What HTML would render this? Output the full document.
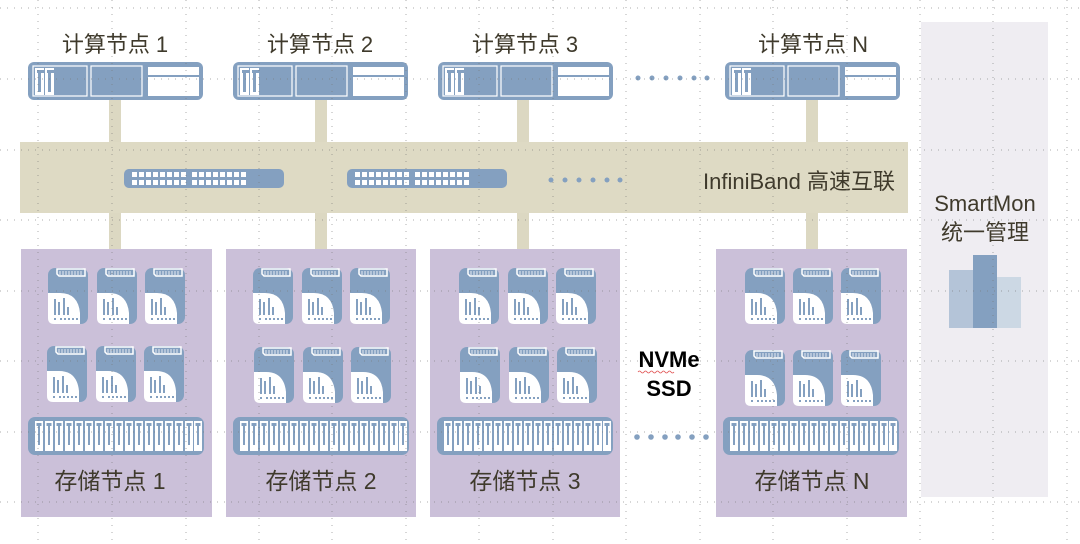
<!DOCTYPE html>
<html><head><meta charset="utf-8"><style>
html,body{margin:0;padding:0;background:#fff;}
svg{display:block}
text{font-family:"Liberation Sans","Noto Sans CJK SC",sans-serif;}
</style></head><body>
<svg width="1080" height="544" viewBox="0 0 1080 544" xmlns="http://www.w3.org/2000/svg">
<defs>
<g id="ssd">
 <rect x="0" y="0" width="40" height="56" rx="7" fill="#84a0c0"/>
 <path d="M9 1 H37 V8 H11 L9 6 Z" fill="none" stroke="#fff" stroke-width="1.5"/>
 <path d="M12 3 V7 M15 3 V7 M18 3 V7 M21 3 V7 M24 3 V7 M27 3 V7 M30 3 V7 M33 3 V7" stroke="#fff" stroke-width="0.8"/>
 <path d="M0 25 H12 Q30 25 32 45 V56 H6 Q0 56 0 50 Z" fill="#fff"/>
 <rect x="6" y="31" width="2" height="16" fill="#84a0c0"/>
 <rect x="10" y="34" width="2" height="13" fill="#84a0c0"/>
 <rect x="15" y="30" width="2" height="17" fill="#84a0c0"/>
 <rect x="19" y="39" width="2" height="8" fill="#84a0c0"/>
 <path d="M6 51 H8 M12 51 H14 M16 51 H18 M20 51 H22 M24 51 H26 M28 51 H30" stroke="#84a0c0" stroke-width="2"/>
</g>
<g id="node">
 <rect x="0" y="0" width="175" height="38" rx="6" fill="#84a0c0"/>
 <rect x="5" y="4" width="54" height="30" fill="none" stroke="#fff" stroke-width="1.2"/>
 <rect x="7" y="6" width="9" height="27" fill="#fff"/>
 <rect x="17" y="6" width="9" height="27" fill="#fff"/>
 <rect x="10" y="10" width="3" height="20" fill="#84a0c0"/>
 <rect x="20" y="10" width="3" height="20" fill="#84a0c0"/>
 <rect x="9" y="8" width="7" height="3" fill="#84a0c0"/>
 <rect x="19" y="8" width="7" height="3" fill="#84a0c0"/>
 <rect x="63" y="4" width="51" height="30" fill="none" stroke="#fff" stroke-width="1.2"/>
 <rect x="120" y="5" width="51" height="8" fill="#fff"/>
 <rect x="120" y="15" width="51" height="19" fill="#fff"/>
</g>
<g id="sw">
 <rect x="0" y="0" width="160" height="19" rx="5" fill="#84a0c0"/>
 <g fill="#fff">
 <rect x="8" y="3" width="5" height="5"/><rect x="15" y="3" width="5" height="5"/><rect x="22" y="3" width="5" height="5"/><rect x="29" y="3" width="5" height="5"/><rect x="36" y="3" width="5" height="5"/><rect x="43" y="3" width="5" height="5"/><rect x="50" y="3" width="5" height="5"/><rect x="57" y="3" width="5" height="5"/>
 <rect x="68" y="3" width="5" height="5"/><rect x="75" y="3" width="5" height="5"/><rect x="82" y="3" width="5" height="5"/><rect x="89" y="3" width="5" height="5"/><rect x="96" y="3" width="5" height="5"/><rect x="103" y="3" width="5" height="5"/><rect x="110" y="3" width="5" height="5"/><rect x="117" y="3" width="5" height="5"/>
 <rect x="8" y="11" width="5" height="5"/><rect x="15" y="11" width="5" height="5"/><rect x="22" y="11" width="5" height="5"/><rect x="29" y="11" width="5" height="5"/><rect x="36" y="11" width="5" height="5"/><rect x="43" y="11" width="5" height="5"/><rect x="50" y="11" width="5" height="5"/><rect x="57" y="11" width="5" height="5"/>
 <rect x="68" y="11" width="5" height="5"/><rect x="75" y="11" width="5" height="5"/><rect x="82" y="11" width="5" height="5"/><rect x="89" y="11" width="5" height="5"/><rect x="96" y="11" width="5" height="5"/><rect x="103" y="11" width="5" height="5"/><rect x="110" y="11" width="5" height="5"/><rect x="117" y="11" width="5" height="5"/>
 </g>
</g>
<g id="slot">
 <rect x="0" y="0" width="8" height="30" fill="#fff"/>
 <rect x="1.5" y="2" width="5" height="3" fill="#84a0c0"/>
 <rect x="3" y="4" width="2" height="20" fill="#84a0c0"/>
</g>
<g id="arr">
 <rect x="0" y="0" width="176" height="38" rx="7" fill="#84a0c0"/>
 <use href="#slot" x="7" y="4"/><use href="#slot" x="17" y="4"/><use href="#slot" x="27" y="4"/><use href="#slot" x="37" y="4"/><use href="#slot" x="47" y="4"/><use href="#slot" x="57" y="4"/><use href="#slot" x="67" y="4"/><use href="#slot" x="77" y="4"/><use href="#slot" x="87" y="4"/><use href="#slot" x="97" y="4"/><use href="#slot" x="107" y="4"/><use href="#slot" x="117" y="4"/><use href="#slot" x="127" y="4"/><use href="#slot" x="137" y="4"/><use href="#slot" x="147" y="4"/><use href="#slot" x="157" y="4"/><use href="#slot" x="166" y="4"/>
</g>
</defs>

<rect x="921" y="22" width="127" height="475" fill="#efedf2"/>
<text x="985" y="211" font-size="22" fill="#3f3a2c" text-anchor="middle">SmartMon</text>
<text x="985" y="240" font-size="22" fill="#3f3a2c" text-anchor="middle">统一管理</text>
<rect x="949" y="270" width="24" height="58" fill="#b4c4d8"/>
<rect x="973" y="255" width="24" height="73" fill="#84a0c0"/>
<rect x="997" y="277" width="24" height="51" fill="#ccd8e4"/>

<g fill="#dcd8c2">
<rect x="109" y="99" width="12" height="150"/>
<rect x="315" y="99" width="12" height="150"/>
<rect x="517" y="99" width="12" height="150"/>
<rect x="806" y="99" width="12" height="150"/>
</g>
<rect x="20" y="142" width="888" height="71" fill="#dedac4"/>
<use href="#sw" x="124" y="169"/>
<use href="#sw" x="347" y="169"/>
<g fill="#84a0c0"><circle cx="551" cy="180" r="2.5"/><circle cx="565" cy="180" r="2.5"/><circle cx="579" cy="180" r="2.5"/><circle cx="593" cy="180" r="2.5"/><circle cx="607" cy="180" r="2.5"/><circle cx="620" cy="180" r="2.5"/></g>
<text x="895" y="189" font-size="22" fill="#3f3a2c" text-anchor="end">InfiniBand 高速互联</text>

<g font-size="22" fill="#3f3a2c" text-anchor="middle">
<text x="115" y="52">计算节点 1</text>
<text x="320" y="52">计算节点 2</text>
<text x="525" y="52">计算节点 3</text>
<text x="813" y="52">计算节点 N</text>
</g>
<use href="#node" x="28" y="62"/>
<use href="#node" x="233" y="62"/>
<use href="#node" x="438" y="62"/>
<use href="#node" x="725" y="62"/>
<g fill="#84a0c0"><circle cx="638" cy="78" r="2.5"/><circle cx="652" cy="78" r="2.5"/><circle cx="666" cy="78" r="2.5"/><circle cx="680" cy="78" r="2.5"/><circle cx="694" cy="78" r="2.5"/><circle cx="707" cy="78" r="2.5"/></g>

<g fill="#cbc0d9">
<rect x="21" y="249" width="191" height="268"/>
<rect x="226" y="249" width="190" height="268"/>
<rect x="430" y="249" width="190" height="268"/>
<rect x="716" y="249" width="191" height="268"/>
</g>
<use href="#ssd" x="48" y="268"/><use href="#ssd" x="97" y="268"/><use href="#ssd" x="145" y="268"/>
<use href="#ssd" x="47" y="346"/><use href="#ssd" x="96" y="346"/><use href="#ssd" x="144" y="346"/>
<use href="#ssd" x="253" y="268"/><use href="#ssd" x="302" y="268"/><use href="#ssd" x="350" y="268"/>
<use href="#ssd" x="254" y="347"/><use href="#ssd" x="303" y="347"/><use href="#ssd" x="351" y="347"/>
<use href="#ssd" x="459" y="268"/><use href="#ssd" x="508" y="268"/><use href="#ssd" x="556" y="268"/>
<use href="#ssd" x="460" y="347"/><use href="#ssd" x="509" y="347"/><use href="#ssd" x="557" y="347"/>
<use href="#ssd" x="745" y="268"/><use href="#ssd" x="793" y="268"/><use href="#ssd" x="841" y="268"/>
<use href="#ssd" x="745" y="350"/><use href="#ssd" x="793" y="350"/><use href="#ssd" x="841" y="350"/>
<use href="#arr" x="28" y="417"/>
<use href="#arr" x="233" y="417"/>
<use href="#arr" x="437" y="417"/>
<use href="#arr" x="723" y="417"/>
<g font-size="23" fill="#3f3a2c" text-anchor="middle">
<text x="110" y="489">存储节点 1</text>
<text x="321" y="489">存储节点 2</text>
<text x="525" y="489">存储节点 3</text>
<text x="812" y="489">存储节点 N</text>
</g>
<g fill="#84a0c0"><circle cx="637" cy="437" r="2.8"/><circle cx="651" cy="437" r="2.8"/><circle cx="665" cy="437" r="2.8"/><circle cx="678" cy="437" r="2.8"/><circle cx="692" cy="437" r="2.8"/><circle cx="706" cy="437" r="2.8"/></g>
<g font-size="22" font-weight="bold" fill="#000" text-anchor="middle">
<text x="669" y="367">NVMe</text>
<text x="669" y="396">SSD</text>
</g>
<path d="M638 372 q1.5 -2 3 0 t3 0 t3 0 t3 0 t3 0 t3 0 t3 0 t3 0 t3 0 t3 0 t3 0 t3 0" stroke="#e05050" stroke-width="0.8" fill="none"/>

<g stroke="#777" stroke-width="1" stroke-dasharray="1 6" opacity="0.6">
<line x1="0" y1="8" x2="1080" y2="8"/><line x1="0" y1="79" x2="1080" y2="79"/>
<line x1="0" y1="150" x2="1080" y2="150"/><line x1="0" y1="220" x2="1080" y2="220"/>
<line x1="0" y1="291" x2="1080" y2="291"/><line x1="0" y1="361" x2="1080" y2="361"/>
<line x1="0" y1="432" x2="1080" y2="432"/><line x1="0" y1="502" x2="1080" y2="502"/>
<line x1="38" y1="0" x2="38" y2="544"/><line x1="112" y1="0" x2="112" y2="544"/>
<line x1="186" y1="0" x2="186" y2="544"/><line x1="259" y1="0" x2="259" y2="544"/>
<line x1="332" y1="0" x2="332" y2="544"/><line x1="406" y1="0" x2="406" y2="544"/>
<line x1="479" y1="0" x2="479" y2="544"/><line x1="553" y1="0" x2="553" y2="544"/>
<line x1="626" y1="0" x2="626" y2="544"/><line x1="700" y1="0" x2="700" y2="544"/>
<line x1="773" y1="0" x2="773" y2="544"/><line x1="847" y1="0" x2="847" y2="544"/>
<line x1="920" y1="0" x2="920" y2="544"/><line x1="993" y1="0" x2="993" y2="544"/>
<line x1="1067" y1="0" x2="1067" y2="544"/>
</g>
</svg>
</body></html>
